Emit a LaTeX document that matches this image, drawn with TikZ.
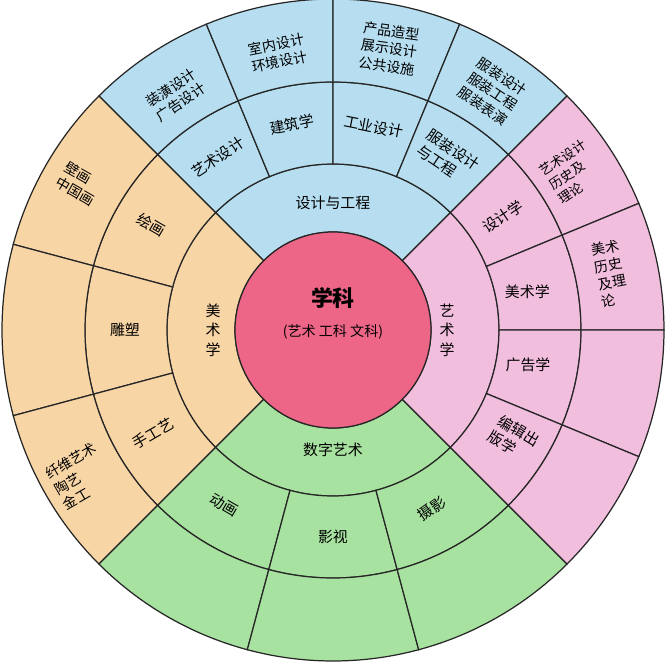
\documentclass[tikz,border=0pt]{standalone}
\usepackage{fontspec}
\newfontfamily\cjk{Noto Sans CJK SC}
\definecolor{designblue}{RGB}{182,222,240}
\definecolor{finepeach}{RGB}{248,213,165}
\definecolor{digitgreen}{RGB}{168,226,160}
\definecolor{artpink}{RGB}{242,190,222}
\definecolor{corerose}{RGB}{238,102,135}
\def\ringcell[#1](#2:#3:#4:#5){\draw[#1] (#2:#4) arc (#2:#3:#4) -- (#3:#5) arc (#3:#2:#5) -- cycle;}
\tikzset{
	rim/.style={draw=black!85, line width=0.7pt},
	lbl/.style={font=\cjk\fontsize{8.5}{10.5}\selectfont, align=left, inner sep=1pt},
	sublbl/.style={font=\cjk\fontsize{8}{10}\selectfont, align=left, inner sep=1pt},
	vlbl/.style={font=\cjk\fontsize{8.5}{11}\selectfont, align=center, inner sep=1pt}
}

\begin{document}
\begin{tikzpicture}
		%%%%% START %%%%%
		\useasboundingbox (-6.66, -6.68) rectangle (6.64, 6.6);
		
		% design and engineering (top)
		\ringcell[rim, fill=designblue](45:135:1.96:3.32);
		\ringcell[rim, fill=designblue](112.5:135:3.32:4.96);
		\ringcell[rim, fill=designblue](90:112.5:3.32:4.96);
		\ringcell[rim, fill=designblue](67.5:90:3.32:4.96);
		\ringcell[rim, fill=designblue](45:67.5:3.32:4.96);
		\ringcell[rim, fill=designblue](112.5:135:4.96:6.62);
		\ringcell[rim, fill=designblue](90:112.5:4.96:6.62);
		\ringcell[rim, fill=designblue](67.5:90:4.96:6.62);
		\ringcell[rim, fill=designblue](45:67.5:4.96:6.62);
		
		% fine arts (left)
		\ringcell[rim, fill=finepeach](135:225:1.96:3.32);
		\ringcell[rim, fill=finepeach](135:165:3.32:4.96);
		\ringcell[rim, fill=finepeach](165:195:3.32:4.96);
		\ringcell[rim, fill=finepeach](195:225:3.32:4.96);
		\ringcell[rim, fill=finepeach](135:165:4.96:6.62);
		\ringcell[rim, fill=finepeach](165:195:4.96:6.62);
		\ringcell[rim, fill=finepeach](195:225:4.96:6.62);
		
		% digital art (bottom)
		\ringcell[rim, fill=digitgreen](225:315:1.96:3.32);
		\ringcell[rim, fill=digitgreen](225:255:3.32:4.96);
		\ringcell[rim, fill=digitgreen](255:285:3.32:4.96);
		\ringcell[rim, fill=digitgreen](285:315:3.32:4.96);
		\ringcell[rim, fill=digitgreen](225:255:4.96:6.62);
		\ringcell[rim, fill=digitgreen](255:285:4.96:6.62);
		\ringcell[rim, fill=digitgreen](285:315:4.96:6.62);
		
		% art studies (right)
		\ringcell[rim, fill=artpink](315:405:1.96:3.32);
		\ringcell[rim, fill=artpink](382.5:405:3.32:4.96);
		\ringcell[rim, fill=artpink](360:382.5:3.32:4.96);
		\ringcell[rim, fill=artpink](337.5:360:3.32:4.96);
		\ringcell[rim, fill=artpink](315:337.5:3.32:4.96);
		\ringcell[rim, fill=artpink](382.5:405:4.96:6.62);
		\ringcell[rim, fill=artpink](360:382.5:4.96:6.62);
		\ringcell[rim, fill=artpink](337.5:360:4.96:6.62);
		\ringcell[rim, fill=artpink](315:337.5:4.96:6.62);
		
		% core
		\draw[rim, fill=corerose] (0, 0) circle (1.96);
		\node[font=\cjk\bfseries\fontsize{12.5}{14}\selectfont] (xueke) at (0, 0.64) {学科};
		\node[font=\cjk\fontsize{8}{10}\selectfont] (fenlei) at (0, -0.04) {(艺术 工科 文科)};
		
		% labels, top
		\node[lbl] (shejigc) at (90:2.54) {设计与工程};
		\node[lbl, rotate=33.75] (yssj) at (123.75:4.15) {艺术设计};
		\node[lbl, rotate=11.25] (jianzhu) at (101.25:4.2) {建筑学};
		\node[lbl, rotate=-11.25] (gongye) at (78.75:4.15) {工业设计};
		\node[lbl, rotate=-33.75] (fuzhuang) at (56.25:4.15) {服装设计\\与工程};
		\node[sublbl, rotate=33.75] (zhuanghuang) at (123.75:5.65) {装潢设计\\广告设计};
		\node[sublbl, rotate=11.25] (shinei) at (101.25:5.65) {室内设计\\环境设计};
		\node[sublbl, rotate=-8] (chanpin) at (78.75:5.74) {产品造型\\展示设计\\公共设施};
		\node[sublbl, rotate=-33.75] (fzsj) at (56.25:5.74) {服装设计\\服装工程\\服装表演};
		
		% labels, left
		\node[vlbl] (meishu) at (180:2.4) {美\\术\\学};
		\node[lbl, rotate=-30] (huihua) at (150:4.2) {绘画};
		\node[lbl] (diaosu) at (180:4.16) {雕塑};
		\node[lbl, rotate=30] (shougong) at (210:4.15) {手工艺};
		\node[sublbl, rotate=-30] (bihua) at (150:5.85) {壁画\\中国画};
		\node[sublbl, rotate=30] (xianwei) at (210:5.85) {纤维艺术\\陶艺\\金工};
		
		% labels, bottom
		\node[lbl] (shuzi) at (270:2.4) {数字艺术};
		\node[lbl, rotate=-30] (donghua) at (238:4.12) {动画};
		\node[lbl] (yingshi) at (270:4.14) {影视};
		\node[lbl, rotate=35] (sheying) at (299:4.08) {摄影};
		
		% labels, right
		\node[vlbl] (yishu) at (0:2.28) {艺\\术\\学};
		\node[lbl, rotate=33.75] (shejixue) at (33.75:4.08) {设计学};
		\node[lbl] (meishuxue) at (11:3.96) {美术学};
		\node[lbl] (guanggao) at (-10:3.96) {广告学};
		\node[lbl, rotate=-31] (bianji) at (-31:4.22) {编辑出\\版学};
		\node[sublbl, font=\cjk\fontsize{7.5}{9.5}\selectfont, rotate=34] (yssjls) at (33.5:5.74) {艺术设计\\历史及\\理论};
		\node[sublbl, rotate=11.25] (msls) at (11.5:5.66) {美术\\历史\\及理\\论};
		
		%%%%% END %%%%%
\end{tikzpicture}
\end{document}
